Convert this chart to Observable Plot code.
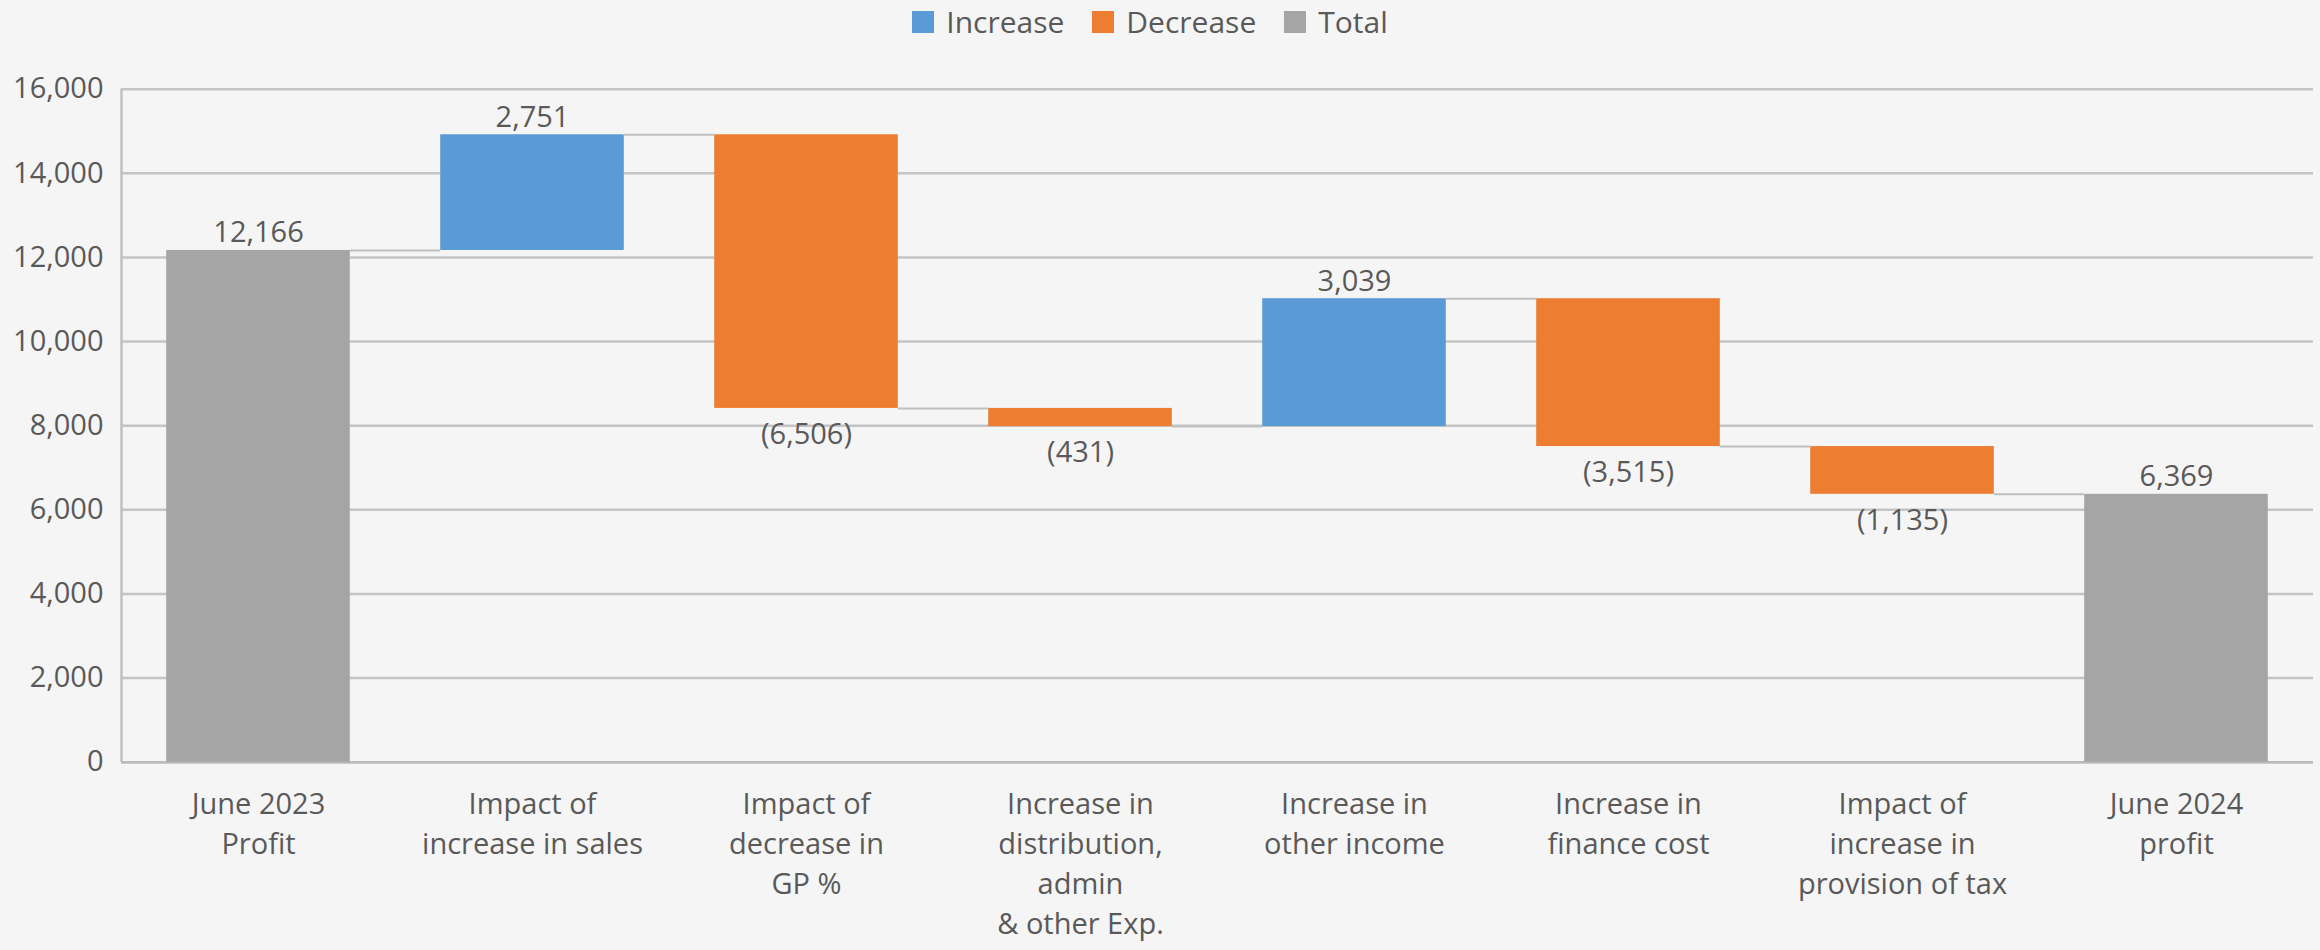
<!DOCTYPE html>
<html>
<head>
<meta charset="utf-8">
<script src="https://cdn.jsdelivr.net/npm/d3@7"></script>
<script src="https://cdn.jsdelivr.net/npm/@observablehq/plot@0.6"></script>
<style>
  html, body { margin: 0; padding: 0; background: #f5f5f5; }
  body { width: 2320px; height: 950px; overflow: hidden; font-family: "Open Sans", sans-serif; color: #595959; }
  #legend { height: 44px; display: flex; justify-content: center; align-items: center; font-size: 30px; line-height: 44px; padding-right: 20px; }
  .item { display: flex; align-items: center; margin-left: 14px; margin-right: 14px; }
  .sw { width: 22px; height: 22px; margin-right: 12px; }
</style>
</head>
<body>
<div id="legend"></div>
<div id="chart"></div>
<script>
const categories = [
  "June 2023\nProfit",
  "Impact of\nincrease in sales",
  "Impact of\ndecrease in\nGP %",
  "Increase in\ndistribution,\nadmin\n& other Exp.",
  "Increase in\nother income",
  "Increase in\nfinance cost",
  "Impact of\nincrease in\nprovision of tax",
  "June 2024\nprofit"
];
const values = [12166, 2751, -6506, -431, 3039, -3515, -1135, 6369];
const kinds = ["Total", "Increase", "Decrease", "Decrease", "Increase", "Decrease", "Decrease", "Total"];
const legendLabels = ["Increase", "Decrease", "Total"];
const legendColors = ["#5b9bd5", "#ed7d31", "#a5a5a5"];
const yTicks = [0, 2000, 4000, 6000, 8000, 10000, 12000, 14000, 16000];

// build waterfall table
let running = 0;
const rows = values.map((v, i) => {
  let y1, y2;
  if (kinds[i] === "Total") { y1 = 0; y2 = v; running = v; }
  else { y1 = running; y2 = running + v; running = y2; }
  return {i, cat: categories[i], kind: kinds[i], value: v, y1, y2, end: running};
});
const connectors = rows.slice(0, -1).map(r => ({i: r.i, y: r.end}));

const fmt = d3.format(",");
const labelText = r => r.value < 0 ? "(" + fmt(-r.value) + ")" : fmt(r.value);

const pad = 0.165;
const fontSize = 29;

// legend
const leg = document.getElementById("legend");
legendLabels.forEach((l, k) => {
  const it = document.createElement("div");
  it.className = "item";
  const sw = document.createElement("div");
  sw.className = "sw";
  sw.style.background = legendColors[k];
  const tx = document.createElement("span");
  tx.textContent = l;
  it.appendChild(sw); it.appendChild(tx);
  leg.appendChild(it);
});

const chart = Plot.plot({
  width: 2320,
  height: 906,
  marginLeft: 121,
  marginRight: 7,
  marginTop: 44.7,
  marginBottom: 188.3,
  style: {background: "#f5f5f5", fontFamily: "Open Sans", fontSize: fontSize + "px", color: "#595959"},
  x: {domain: [0, categories.length], axis: null},
  y: {domain: [0, 16000], ticks: yTicks},
  color: {domain: legendLabels, range: legendColors},
  marks: [
    Plot.gridY(yTicks, {stroke: "#c4c4c4", strokeOpacity: 1, strokeWidth: 2.5}),
    Plot.ruleX([0], {y1: 0, y2: 16000, stroke: "#c0c0c0", strokeWidth: 2.5}),
    Plot.ruleY([0], {stroke: "#bababa", strokeWidth: 2.5}),
    Plot.rectY(rows, {
      x1: d => d.i + pad, x2: d => d.i + 1 - pad,
      y1: "y1", y2: "y2", fill: "kind"
    }),
    Plot.ruleY(connectors, {
      x1: d => d.i + 1 - pad, x2: d => d.i + 1 + pad, y: "y",
      stroke: "#bfbfbf", strokeWidth: 2
    }),
    Plot.text(rows.filter(r => r.value >= 0), {
      x: d => d.i + 0.5, y: d => Math.max(d.y1, d.y2), text: labelText,
      lineAnchor: "bottom", dy: -8, fill: "#595959", fontSize
    }),
    Plot.text(rows.filter(r => r.value < 0), {
      x: d => d.i + 0.5, y: d => Math.min(d.y1, d.y2), text: labelText,
      lineAnchor: "top", dy: 15, fill: "#595959", fontSize
    }),
    Plot.text(rows, {
      x: d => d.i + 0.5, y: 0, text: "cat",
      lineAnchor: "top", dy: 23, lineHeight: 1.38, fill: "#595959", fontSize
    }),
    Plot.axisY(yTicks, {tickSize: 0, tickPadding: 18, tickFormat: fmt, fontSize, fill: "#595959"})
  ]
});
document.getElementById("chart").appendChild(chart);
</script>
</body>
</html>
